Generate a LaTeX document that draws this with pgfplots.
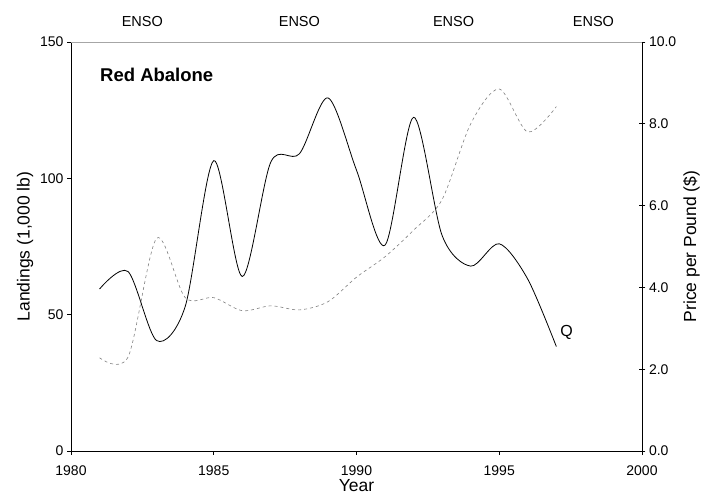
\documentclass[border=0pt]{standalone}
\usepackage{pgfplots}
\pgfplotsset{compat=1.18}
\usepackage{fontspec}
\setmainfont{Liberation Sans}
\begin{document}
\begin{tikzpicture}[font=\fontsize{14}{17}\selectfont]
\useasboundingbox (-71pt,-47pt) rectangle (645pt,451pt);
\pgfplotsset{
  common/.style={
    scale only axis, width=571pt, height=409pt,
    xmin=1980, xmax=2000,
    /pgf/number format/assume math mode=true,
    tick label style={font=\fontsize{14}{17}\selectfont},
    label style={font=\fontsize{17.5}{21}\selectfont},
    axis line style={-, line width=0.8pt, black},
    major tick style={line width=0.8pt, black},
    major tick length=7pt,
    clip=false,
  }
}
\begin{axis}[common,
  ymin=0, ymax=150,
  axis x line*=bottom, axis y line*=left,
  xtick={1980,1985,...,2000}, ytick={0,50,100,150},
  tick align=outside, major tick length=4pt,
  xticklabel style={/pgf/number format/1000 sep={}, yshift=-7pt},
  xlabel={Year}, ylabel={Landings (1,000 lb)},
  xlabel style={yshift=1pt, inner sep=1pt},
  ylabel style={yshift=0pt},
]
\addplot[black, line width=0.8pt, smooth, tension=0.5] coordinates {
(1981,59.4)(1982,65.8)(1983,40.5)(1984,53)(1985,106.5)(1986,64)(1987,106)(1988,109)(1989,129.5)(1990,103)(1991,75.5)(1992,122.4)(1993,79)(1994,67.8)(1995,76)(1996,63)(1997,38.3)
};
\node[anchor=west, font=\fontsize{18.5}{22}\selectfont\bfseries] at (axis cs:1980.9,137.9) {Red Abalone};
\node[font=\fontsize{16}{19}\selectfont] at (axis cs:1997.36,43.6) {Q};
\node[font=\fontsize{14.5}{17}\selectfont] at (axis cs:1982.5,150) [yshift=20pt] {ENSO};
\node[font=\fontsize{14.5}{17}\selectfont] at (axis cs:1988,150) [yshift=20pt] {ENSO};
\node[font=\fontsize{14.5}{17}\selectfont] at (axis cs:1993.4,150) [yshift=20pt] {ENSO};
\node[font=\fontsize{14.5}{17}\selectfont] at (axis cs:1998.3,150) [yshift=20pt] {ENSO};
\end{axis}
\begin{axis}[common,
  ymin=0, ymax=10,
  axis y line*=right, axis x line*=top,
  x axis line style={gray!70, line width=0.8pt},
  xtick=\empty, ytick={0,2,...,10},
  tick align=center, major tick length=7pt,
  yticklabel style={/pgf/number format/.cd, fixed, fixed zerofill, precision=1},
  ylabel={Price per Pound (\$)},
]
\addplot[gray, line width=0.6pt, dash pattern=on 3pt off 3pt, smooth, tension=0.5] coordinates {
(1981,2.28)(1982,2.3)(1983,5.2)(1984,3.75)(1985,3.75)(1986,3.43)(1987,3.55)(1988,3.45)(1989,3.65)(1990,4.25)(1991,4.75)(1992,5.4)(1993,6.15)(1994,8.0)(1995,8.85)(1996,7.8)(1997,8.42)
};
\end{axis}
\end{tikzpicture}
\end{document}
